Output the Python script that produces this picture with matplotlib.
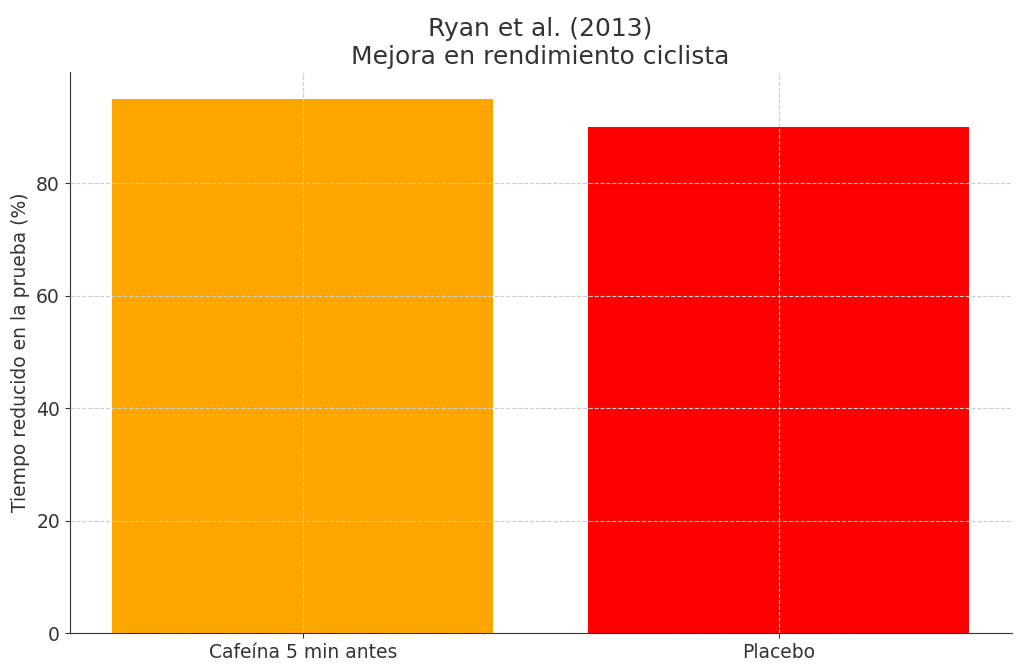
import matplotlib
matplotlib.use("Agg")
import matplotlib.pyplot as plt

categories = ["Cafeína 5 min antes", "Placebo"]
values = [95, 90]
colors = ["orange", "red"]

fig = plt.figure(figsize=(10.24, 6.72), dpi=100)
ax = fig.add_axes([0.068, 0.058, 0.92, 0.835])
ax.bar(categories, values, color=colors, zorder=1)
ax.grid(True, linestyle="--", color="#cccccc", linewidth=0.8, zorder=2)
ax.set_axisbelow(False)
for s in ["top", "right"]:
    ax.spines[s].set_visible(False)
ax.spines["left"].set_color("#333333")
ax.spines["bottom"].set_color("#333333")
ax.tick_params(colors="#333333", labelsize=13.5)
ax.set_ylabel("Tiempo reducido en la prueba (%)", fontsize=13.5, color="#333333")
ax.set_title("Ryan et al. (2013)\nMejora en rendimiento ciclista", fontsize=18, color="#333333")
fig.savefig("out.png", dpi=100)
